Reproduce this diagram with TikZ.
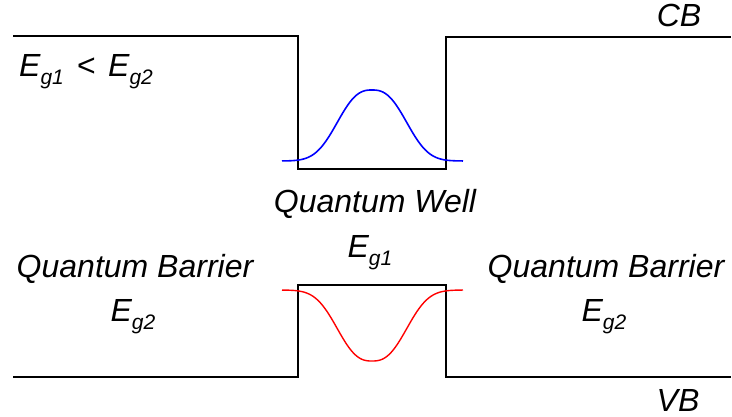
\documentclass[tikz,border=0pt]{standalone}
\usepackage{fontspec}
\setmainfont{Liberation Sans}
\usepackage{tikz}
\usepackage{xcolor}

\tikzset{
  band/.style={line width=1.6pt, black},
  lbl/.style={font=\itshape\fontsize{32}{38}\selectfont, inner sep=0pt, anchor=base},
}
\newcommand{\Eg}[1]{E\raisebox{-0.25em}{\fontsize{21}{24}\selectfont g#1}}

\begin{document}
\begin{tikzpicture}[x=1pt, y=-1pt]
\useasboundingbox (0,0) rectangle (732,417);
% conduction band
\draw[band] (13,36) -- (298,36) -- (298,169) -- (446,169) -- (446,37) -- (731,37);
% valence band
\draw[band] (13,377) -- (298,377) -- (298,285) -- (446,285) -- (446,377) -- (731,377);
% wave functions
\draw[blue, line width=1.6pt] plot[domain=282:463, samples=150, smooth]
  (\x, {161-71*exp(-(abs(\x-372)/42)^2.6)});
\draw[red, line width=1.4pt] plot[domain=282:463, samples=150, smooth]
  (\x, {290+71*exp(-(abs(\x-372)/42)^2.6)});
% labels
\node[lbl, anchor=base west] (ratio) at (19,77) {\Eg{1}\hspace{0.4em}<\hspace{0.4em}\Eg{2}};
\node[lbl] (CB) at (679,27) {CB};
\node[lbl] (VB) at (678,411) {VB};
\node[lbl] (QW) at (375,213) {Quantum Well};
\node[lbl] (EgW) at (370,258) {\Eg{1}};
\node[lbl] (QBl) at (135,277) {Quantum Barrier};
\node[lbl] (EgBl) at (133,322) {\Eg{2}};
\node[lbl] (QBr) at (606,277) {Quantum Barrier};
\node[lbl] (EgBr) at (604,322) {\Eg{2}};
\end{tikzpicture}
\end{document}
